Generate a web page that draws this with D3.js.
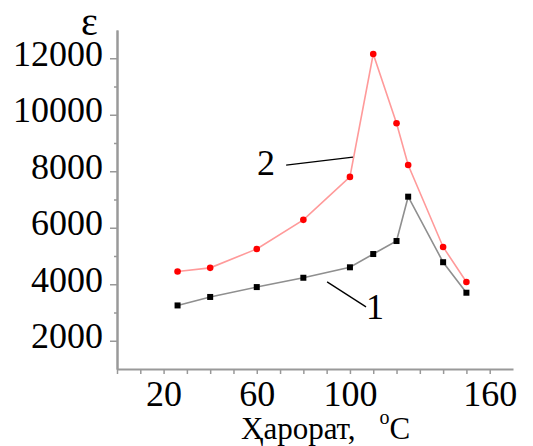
<!DOCTYPE html>
<html>
<head>
<meta charset="utf-8">
<script src="https://cdn.jsdelivr.net/npm/d3@7"></script>
<style>
body { margin: 0; background: #fff; }
svg text { font-family: "Liberation Serif", "DejaVu Serif", serif; fill: #000; }
</style>
</head>
<body>
<svg class="chart"></svg>
<script>
var width = 533,
    height = 446;

// temperature, deg C
var temps = [26, 40, 60, 80, 100, 110, 120, 125, 140, 150];
// curve 1 (black squares)
var eps1 = [3250, 3550, 3900, 4230, 4600, 5070, 5530, 7100, 4780, 3700];
// curve 2 (red dots)
var eps2 = [4450, 4580, 5250, 6280, 7800, 12150, 9700, 8220, 5320, 4080];

var xLabels = [20, 60, 100, 160];
var yLabels = [2000, 4000, 6000, 8000, 10000, 12000];

// curve number callouts, in data units: label, from, to
var noteNames = ['2', '1'];
var noteText = [[64, 7870], [110.8, 2780]];
var noteFrom = [[72.6, 8220], [90.2, 4085]];
var noteTo = [[101.3, 8500], [106.9, 3200]];

var x = d3.scaleLinear().domain([0, 170]).range([117, 513]);
var y = d3.scaleLinear().domain([1000, 13000]).range([369, 30]);

var svg = d3.select('.chart')
    .attr('width', width)
    .attr('height', height);

// x axis
var xAxis = svg.append('g')
    .attr('transform', 'translate(0,' + y(1000) + ')')
    .call(d3.axisBottom(x)
        .tickValues(d3.range(0, 161, 10))
        .tickFormat(d => xLabels.includes(d) ? d : '')
        .tickSize(5)
        .tickSizeOuter(0)
        .tickPadding(6));

// y axis: minor ticks then major ones with labels
var yMinor = svg.append('g')
    .attr('transform', 'translate(' + x(0) + ',0)')
    .call(d3.axisLeft(y)
        .tickValues(d3.range(3000, 13000, 2000))
        .tickFormat('')
        .tickSize(3)
        .tickSizeOuter(0));

var yAxis = svg.append('g')
    .attr('transform', 'translate(' + x(0) + ',0)')
    .call(d3.axisLeft(y)
        .tickValues(yLabels)
        .tickFormat(d3.format('d'))
        .tickSize(7)
        .tickSizeOuter(0)
        .tickPadding(7));

[xAxis, yMinor, yAxis].forEach(g => {
    g.selectAll('.domain').attr('stroke', '#999').attr('stroke-width', 2);
    g.selectAll('.tick line').attr('stroke', '#999').attr('stroke-width', 1.5);
    g.selectAll('text').attr('font-size', 36).attr('font-family', null).attr('fill', '#000');
});
yAxis.selectAll('text').attr('dy', '0.2em');

// axis titles
svg.append('text')
    .attr('x', 81)
    .attr('y', 35)
    .attr('font-size', 40)
    .text('ε');

var title = svg.append('text')
    .attr('x', 241)
    .attr('y', 439)
    .attr('font-size', 31);
title.append('tspan').text('Ҳарорат,');
title.append('tspan').attr('dx', 24).attr('dy', -15).attr('font-size', 20).text('o');
title.append('tspan').attr('dy', 15).text('C');

// lines
var line = d3.line()
    .x(d => x(d[0]))
    .y(d => y(d[1]));

var pts1 = d3.zip(temps, eps1);
var pts2 = d3.zip(temps, eps2);

svg.append('path')
    .datum(pts1)
    .attr('d', line)
    .attr('fill', 'none')
    .attr('stroke', '#8f8f8f')
    .attr('stroke-width', 1.6);

svg.append('path')
    .datum(pts2)
    .attr('d', line)
    .attr('fill', 'none')
    .attr('stroke', '#ff9a9a')
    .attr('stroke-width', 1.6);

svg.selectAll('rect.pt')
    .data(pts1)
    .enter().append('rect')
        .attr('class', 'pt')
        .attr('x', d => x(d[0]) - 3)
        .attr('y', d => y(d[1]) - 3)
        .attr('width', 6)
        .attr('height', 6)
        .attr('fill', '#000');

svg.selectAll('circle.pt')
    .data(pts2)
    .enter().append('circle')
        .attr('class', 'pt')
        .attr('cx', d => x(d[0]))
        .attr('cy', d => y(d[1]))
        .attr('r', 3.3)
        .attr('fill', '#f00');

// callouts
noteNames.forEach((name, i) => {
    svg.append('line')
        .attr('x1', x(noteFrom[i][0]))
        .attr('y1', y(noteFrom[i][1]))
        .attr('x2', x(noteTo[i][0]))
        .attr('y2', y(noteTo[i][1]))
        .attr('stroke', '#000')
        .attr('stroke-width', 1.3);
    svg.append('text')
        .attr('x', x(noteText[i][0]))
        .attr('y', y(noteText[i][1]))
        .attr('text-anchor', 'middle')
        .attr('font-size', 36)
        .text(name);
});
</script>
</body>
</html>
